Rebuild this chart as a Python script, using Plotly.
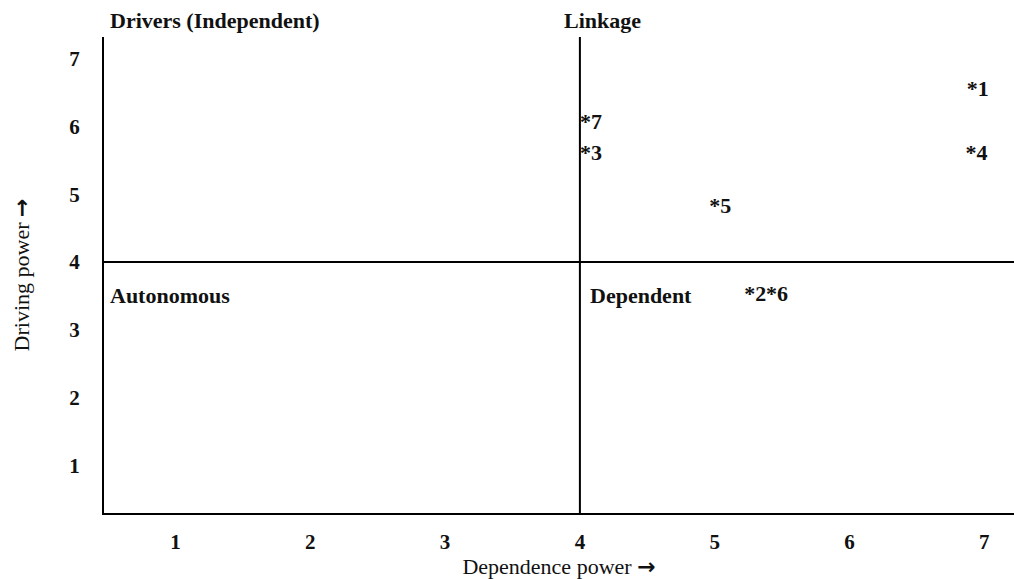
import plotly.graph_objects as go

# Data
labels = ["*1", "*7", "*3", "*4", "*5", "*2", "*6"]
dependence = [6.87, 4.0, 4.0, 6.86, 4.96, 5.22, 5.38]
driving = [6.53, 6.05, 5.58, 5.58, 4.81, 3.51, 3.51]
tick_vals = [1, 2, 3, 4, 5, 6, 7]
top_quadrants = ["Drivers (Independent)", "Linkage"]
top_quad_x = [0.5, 3.87]
low_quadrants = ["Autonomous", "Dependent"]
low_quad_x = [0.5, 4.06]
low_quad_y = [3.51, 3.51]
split = 4

FONT = "Liberation Serif"
XR = [0.47, 7.22]
YR = [0.30, 7.32]
ARROW = "<span style=\"font-family:'DejaVu Sans';font-weight:bold\">→</span>"
SZ = 22

fig = go.Figure()
fig.add_trace(go.Scatter(
    x=dependence, y=driving, mode="text", text=labels,
    textposition="middle right",
    textfont=dict(family=FONT, size=SZ, color="#111", weight="bold"),
    cliponaxis=False, showlegend=False, hoverinfo="skip"))

for t, qx in zip(top_quadrants, top_quad_x):
    fig.add_annotation(x=qx, y=1, text=t, showarrow=False, xanchor="left",
                       yanchor="bottom", xref="x", yref="paper", yshift=2,
                       font=dict(family=FONT, size=SZ, color="#111", weight="bold"))
for t, qx, qy in zip(low_quadrants, low_quad_x, low_quad_y):
    fig.add_annotation(x=qx, y=qy, text=t, showarrow=False, xanchor="left",
                       yanchor="middle", xref="x", yref="y",
                       font=dict(family=FONT, size=SZ, color="#111", weight="bold"))

fig.add_shape(type="line", x0=split, x1=split, y0=YR[0], y1=YR[1],
              xref="x", yref="y", line=dict(color="black", width=2))
fig.add_shape(type="line", x0=XR[0], x1=XR[1], y0=split, y1=split,
              xref="x", yref="y", line=dict(color="black", width=2))

fig.update_layout(
    width=1014, height=579,
    margin=dict(l=104, r=0, t=37, b=66),
    plot_bgcolor="white", paper_bgcolor="white",
    font=dict(family=FONT, color="#111"),
)
fig.update_xaxes(range=XR, tickvals=tick_vals, showgrid=False, zeroline=False,
                 showline=True, linecolor="black", linewidth=2, automargin=False,
                 ticks="", ticklabelstandoff=9,
                 tickfont=dict(family=FONT, size=21, weight="bold", color="#111"),
                 title=dict(text="Dependence power " + ARROW, standoff=5,
                            font=dict(family=FONT, size=22, color="#111")))
fig.update_yaxes(range=YR, tickvals=tick_vals, showgrid=False, zeroline=False,
                 showline=True, linecolor="black", linewidth=2, automargin=False,
                 ticks="", ticklabelstandoff=18,
                 tickfont=dict(family=FONT, size=21, weight="bold", color="#111"),
                 title=dict(text="Driving power " + ARROW, standoff=34,
                            font=dict(family=FONT, size=22, color="#111")))

fig.write_html("out.html", config={"displayModeBar": False},
               post_script="document.body.style.margin='0';")
